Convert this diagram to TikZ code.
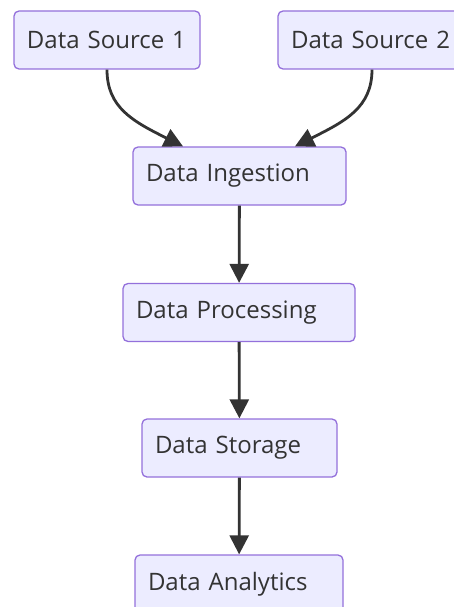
\documentclass[tikz,border=0pt]{standalone}
\usepackage{fontspec}
\setmainfont{Open Sans}
\usetikzlibrary{arrows.meta,calc}
\definecolor{boxfill}{HTML}{ECECFF}
\definecolor{boxline}{HTML}{9370DB}
\definecolor{ink}{HTML}{333333}
\tikzset{
  flowbox/.style={draw=boxline, fill=boxfill, line width=1.3pt, rounded corners=5pt,
    minimum height=58pt, inner xsep=13pt, inner ysep=0pt, align=left, text=ink,
    font=\fontsize{24}{28}\selectfont},
  conn/.style={draw=ink, line width=2.8pt, -{Triangle[length=19pt,width=19pt]}}
}
\begin{document}
\begin{tikzpicture}[x=1pt,y=-1pt]
\useasboundingbox (0,0) rectangle (454,607);
\node[flowbox, text width=160pt] (s1) at (107,40) {Data Source 1};
\node[flowbox, text width=160pt] (s2) at (371,40) {Data Source 2};
\node[flowbox, text width=187pt] (ing) at (239.5,176) {Data Ingestion};
\node[flowbox, text width=206pt] (proc) at (239,312.5) {Data Processing};
\node[flowbox, text width=169pt] (stor) at (239.5,448) {Data Storage};
\node[flowbox, text width=182pt] (ana) at (239,584) {Data Analytics};
\coordinate (e1) at ($(ing.north)+(-56.5,0)$);
\coordinate (e2) at ($(ing.north)+(55.5,0)$);
\draw[conn] (s1.south) .. controls ($(s1.south)+(0,38)$) and ($(e1)+(-50,-25)$) .. (e1);
\draw[conn] ($(s2.south)+(1,0)$) .. controls ($(s2.south)+(1,38)$) and ($(e2)+(50,-25)$) .. (e2);
\draw[conn] (ing) -- (proc);
\draw[conn] (proc) -- (stor);
\draw[conn] (stor) -- (ana);
\end{tikzpicture}
\end{document}
